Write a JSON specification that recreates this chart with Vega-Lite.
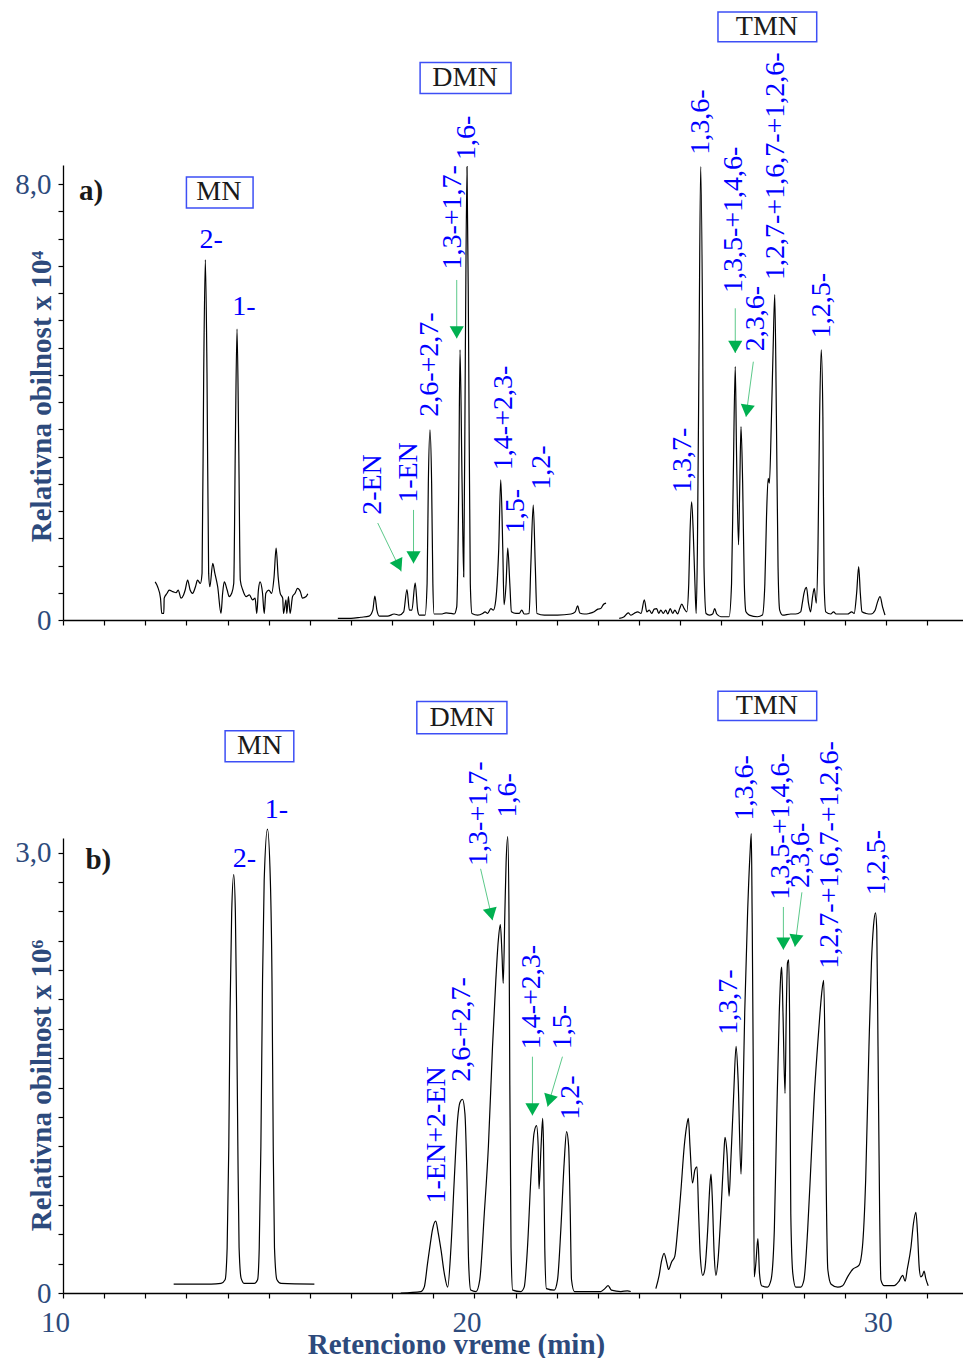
{
  "$schema": "https://vega.github.io/schema/vega-lite/v6.json",
  "background": "white",
  "padding": {"left": 14, "top": 11, "right": 0, "bottom": 5},
  "bounds": "flush",
  "spacing": 218,
  "config": {
    "view": {"stroke": null},
    "axis": {"grid": false, "domainColor": "#000000", "domainWidth": 1.3, "tickColor": "#000000", "tickWidth": 1.2, "tickSize": 5, "labelFont": "Liberation Serif", "labelFontSize": 29, "labelColor": "#2D4A7C", "titleFont": "Liberation Serif", "titleFontSize": 29, "titleFontWeight": "bold", "titleColor": "#2D4A7C", "labelOverlap": false, "labelFlush": false}
  },
  "datasets": {
    "trace": [
      {"p":"a","s":1,"t":12.24,"v":0.70},{"p":"a","s":1,"t":12.30,"v":0.61},{"p":"a","s":1,"t":12.37,"v":0.40},{"p":"a","s":1,"t":12.40,"v":0.12},{"p":"a","s":1,"t":12.45,"v":0.12},{"p":"a","s":1,"t":12.46,"v":0.40},{"p":"a","s":1,"t":12.53,"v":0.49},{"p":"a","s":1,"t":12.58,"v":0.55},{"p":"a","s":1,"t":12.67,"v":0.52},{"p":"a","s":1,"t":12.75,"v":0.50},{"p":"a","s":1,"t":12.80,"v":0.55},{"p":"a","s":1,"t":12.87,"v":0.40},{"p":"a","s":1,"t":12.93,"v":0.46},{"p":"a","s":1,"t":12.97,"v":0.55},{"p":"a","s":1,"t":13.03,"v":0.73},{"p":"a","s":1,"t":13.09,"v":0.55},{"p":"a","s":1,"t":13.15,"v":0.49},{"p":"a","s":1,"t":13.22,"v":0.61},{"p":"a","s":1,"t":13.27,"v":0.73},{"p":"a","s":1,"t":13.34,"v":0.67},{"p":"a","s":1,"t":13.38,"v":0.86},{"p":"a","s":1,"t":13.42,"v":4.53},{"p":"a","s":1,"t":13.46,"v":6.61},{"p":"a","s":1,"t":13.50,"v":4.53},{"p":"a","s":1,"t":13.54,"v":0.86},{"p":"a","s":1,"t":13.57,"v":0.61},{"p":"a","s":1,"t":13.64,"v":1.04},{"p":"a","s":1,"t":13.69,"v":0.86},{"p":"a","s":1,"t":13.76,"v":0.61},{"p":"a","s":1,"t":13.84,"v":0.12},{"p":"a","s":1,"t":13.88,"v":0.49},{"p":"a","s":1,"t":13.92,"v":0.70},{"p":"a","s":1,"t":13.99,"v":0.55},{"p":"a","s":1,"t":14.04,"v":0.43},{"p":"a","s":1,"t":14.10,"v":0.49},{"p":"a","s":1,"t":14.15,"v":0.67},{"p":"a","s":1,"t":14.19,"v":3.30},{"p":"a","s":1,"t":14.23,"v":5.34},{"p":"a","s":1,"t":14.27,"v":3.30},{"p":"a","s":1,"t":14.31,"v":0.73},{"p":"a","s":1,"t":14.37,"v":0.55},{"p":"a","s":1,"t":14.45,"v":0.43},{"p":"a","s":1,"t":14.53,"v":0.46},{"p":"a","s":1,"t":14.61,"v":0.37},{"p":"a","s":1,"t":14.67,"v":0.40},{"p":"a","s":1,"t":14.71,"v":0.12},{"p":"a","s":1,"t":14.75,"v":0.55},{"p":"a","s":1,"t":14.79,"v":0.70},{"p":"a","s":1,"t":14.85,"v":0.49},{"p":"a","s":1,"t":14.89,"v":0.12},{"p":"a","s":1,"t":14.93,"v":0.49},{"p":"a","s":1,"t":15.00,"v":0.55},{"p":"a","s":1,"t":15.07,"v":0.49},{"p":"a","s":1,"t":15.13,"v":0.79},{"p":"a","s":1,"t":15.18,"v":1.32},{"p":"a","s":1,"t":15.23,"v":0.79},{"p":"a","s":1,"t":15.28,"v":0.49},{"p":"a","s":1,"t":15.34,"v":0.40},{"p":"a","s":1,"t":15.36,"v":0.12},{"p":"a","s":1,"t":15.42,"v":0.37},{"p":"a","s":1,"t":15.44,"v":0.12},{"p":"a","s":1,"t":15.48,"v":0.43},{"p":"a","s":1,"t":15.52,"v":0.12},{"p":"a","s":1,"t":15.58,"v":0.43},{"p":"a","s":1,"t":15.64,"v":0.49},{"p":"a","s":1,"t":15.70,"v":0.58},{"p":"a","s":1,"t":15.77,"v":0.52},{"p":"a","s":1,"t":15.82,"v":0.40},{"p":"a","s":1,"t":15.91,"v":0.43},{"p":"a","s":1,"t":15.95,"v":0.48},
      {"p":"a","s":2,"t":16.68,"v":0.03},{"p":"a","s":2,"t":17.00,"v":0.03},{"p":"a","s":2,"t":17.24,"v":0.05},{"p":"a","s":2,"t":17.44,"v":0.07},{"p":"a","s":2,"t":17.53,"v":0.18},{"p":"a","s":2,"t":17.58,"v":0.44},{"p":"a","s":2,"t":17.63,"v":0.18},{"p":"a","s":2,"t":17.69,"v":0.07},{"p":"a","s":2,"t":17.89,"v":0.07},{"p":"a","s":2,"t":18.05,"v":0.11},{"p":"a","s":2,"t":18.17,"v":0.09},{"p":"a","s":2,"t":18.28,"v":0.15},{"p":"a","s":2,"t":18.36,"v":0.56},{"p":"a","s":2,"t":18.42,"v":0.18},{"p":"a","s":2,"t":18.48,"v":0.18},{"p":"a","s":2,"t":18.56,"v":0.68},{"p":"a","s":2,"t":18.62,"v":0.18},{"p":"a","s":2,"t":18.66,"v":0.09},{"p":"a","s":2,"t":18.80,"v":0.09},{"p":"a","s":2,"t":18.85,"v":0.67},{"p":"a","s":2,"t":18.88,"v":2.51},{"p":"a","s":2,"t":18.92,"v":3.49},{"p":"a","s":2,"t":18.96,"v":2.51},{"p":"a","s":2,"t":18.99,"v":0.67},{"p":"a","s":2,"t":19.02,"v":0.11},{"p":"a","s":2,"t":19.19,"v":0.11},{"p":"a","s":2,"t":19.31,"v":0.13},{"p":"a","s":2,"t":19.43,"v":0.12},{"p":"a","s":2,"t":19.51,"v":0.11},{"p":"a","s":2,"t":19.57,"v":0.24},{"p":"a","s":2,"t":19.62,"v":2.51},{"p":"a","s":2,"t":19.65,"v":4.96},{"p":"a","s":2,"t":19.70,"v":2.51},{"p":"a","s":2,"t":19.74,"v":0.79},{"p":"a","s":2,"t":19.78,"v":4.96},{"p":"a","s":2,"t":19.82,"v":8.32},{"p":"a","s":2,"t":19.86,"v":4.96},{"p":"a","s":2,"t":19.90,"v":0.67},{"p":"a","s":2,"t":19.94,"v":0.12},{"p":"a","s":2,"t":20.08,"v":0.09},{"p":"a","s":2,"t":20.20,"v":0.12},{"p":"a","s":2,"t":20.26,"v":0.15},{"p":"a","s":2,"t":20.32,"v":0.12},{"p":"a","s":2,"t":20.40,"v":0.21},{"p":"a","s":2,"t":20.46,"v":0.18},{"p":"a","s":2,"t":20.52,"v":0.37},{"p":"a","s":2,"t":20.59,"v":1.29},{"p":"a","s":2,"t":20.64,"v":2.57},{"p":"a","s":2,"t":20.69,"v":1.29},{"p":"a","s":2,"t":20.72,"v":0.28},{"p":"a","s":2,"t":20.77,"v":0.67},{"p":"a","s":2,"t":20.81,"v":1.32},{"p":"a","s":2,"t":20.86,"v":0.67},{"p":"a","s":2,"t":20.90,"v":0.15},{"p":"a","s":2,"t":21.01,"v":0.12},{"p":"a","s":2,"t":21.09,"v":0.12},{"p":"a","s":2,"t":21.15,"v":0.18},{"p":"a","s":2,"t":21.21,"v":0.11},{"p":"a","s":2,"t":21.33,"v":0.12},{"p":"a","s":2,"t":21.37,"v":0.98},{"p":"a","s":2,"t":21.43,"v":2.11},{"p":"a","s":2,"t":21.48,"v":0.98},{"p":"a","s":2,"t":21.52,"v":0.12},{"p":"a","s":2,"t":21.70,"v":0.09},{"p":"a","s":2,"t":22.02,"v":0.09},{"p":"a","s":2,"t":22.35,"v":0.11},{"p":"a","s":2,"t":22.45,"v":0.15},{"p":"a","s":2,"t":22.51,"v":0.26},{"p":"a","s":2,"t":22.56,"v":0.13},{"p":"a","s":2,"t":22.67,"v":0.11},{"p":"a","s":2,"t":22.79,"v":0.12},{"p":"a","s":2,"t":22.91,"v":0.15},{"p":"a","s":2,"t":23.00,"v":0.20},{"p":"a","s":2,"t":23.07,"v":0.21},{"p":"a","s":2,"t":23.14,"v":0.29},{"p":"a","s":2,"t":23.20,"v":0.31},
      {"p":"a","s":3,"t":23.52,"v":0.03},{"p":"a","s":3,"t":23.64,"v":0.06},{"p":"a","s":3,"t":23.74,"v":0.13},{"p":"a","s":3,"t":23.80,"v":0.09},{"p":"a","s":3,"t":23.88,"v":0.12},{"p":"a","s":3,"t":23.97,"v":0.15},{"p":"a","s":3,"t":24.05,"v":0.12},{"p":"a","s":3,"t":24.13,"v":0.37},{"p":"a","s":3,"t":24.19,"v":0.15},{"p":"a","s":3,"t":24.25,"v":0.18},{"p":"a","s":3,"t":24.31,"v":0.12},{"p":"a","s":3,"t":24.37,"v":0.20},{"p":"a","s":3,"t":24.43,"v":0.21},{"p":"a","s":3,"t":24.48,"v":0.12},{"p":"a","s":3,"t":24.53,"v":0.18},{"p":"a","s":3,"t":24.59,"v":0.12},{"p":"a","s":3,"t":24.65,"v":0.18},{"p":"a","s":3,"t":24.70,"v":0.11},{"p":"a","s":3,"t":24.76,"v":0.21},{"p":"a","s":3,"t":24.82,"v":0.12},{"p":"a","s":3,"t":24.87,"v":0.18},{"p":"a","s":3,"t":24.94,"v":0.11},{"p":"a","s":3,"t":24.99,"v":0.21},{"p":"a","s":3,"t":25.04,"v":0.29},{"p":"a","s":3,"t":25.10,"v":0.21},{"p":"a","s":3,"t":25.16,"v":0.15},{"p":"a","s":3,"t":25.21,"v":0.67},{"p":"a","s":3,"t":25.24,"v":1.59},{"p":"a","s":3,"t":25.28,"v":2.17},{"p":"a","s":3,"t":25.32,"v":1.59},{"p":"a","s":3,"t":25.36,"v":0.67},{"p":"a","s":3,"t":25.39,"v":0.12},{"p":"a","s":3,"t":25.42,"v":1.29},{"p":"a","s":3,"t":25.46,"v":4.96},{"p":"a","s":3,"t":25.50,"v":8.32},{"p":"a","s":3,"t":25.55,"v":4.96},{"p":"a","s":3,"t":25.58,"v":0.98},{"p":"a","s":3,"t":25.63,"v":0.12},{"p":"a","s":3,"t":25.71,"v":0.09},{"p":"a","s":3,"t":25.79,"v":0.11},{"p":"a","s":3,"t":25.84,"v":0.21},{"p":"a","s":3,"t":25.89,"v":0.11},{"p":"a","s":3,"t":25.99,"v":0.06},{"p":"a","s":3,"t":26.19,"v":0.06},{"p":"a","s":3,"t":26.25,"v":0.67},{"p":"a","s":3,"t":26.29,"v":2.51},{"p":"a","s":3,"t":26.34,"v":4.65},{"p":"a","s":3,"t":26.37,"v":3.12},{"p":"a","s":3,"t":26.42,"v":1.38},{"p":"a","s":3,"t":26.45,"v":2.51},{"p":"a","s":3,"t":26.48,"v":3.55},{"p":"a","s":3,"t":26.52,"v":2.51},{"p":"a","s":3,"t":26.56,"v":0.67},{"p":"a","s":3,"t":26.60,"v":0.15},{"p":"a","s":3,"t":26.68,"v":0.09},{"p":"a","s":3,"t":26.88,"v":0.06},{"p":"a","s":3,"t":27.00,"v":0.09},{"p":"a","s":3,"t":27.06,"v":0.67},{"p":"a","s":3,"t":27.10,"v":1.90},{"p":"a","s":3,"t":27.14,"v":2.60},{"p":"a","s":3,"t":27.17,"v":2.51},{"p":"a","s":3,"t":27.22,"v":3.73},{"p":"a","s":3,"t":27.26,"v":4.96},{"p":"a","s":3,"t":27.30,"v":5.97},{"p":"a","s":3,"t":27.34,"v":3.73},{"p":"a","s":3,"t":27.38,"v":0.98},{"p":"a","s":3,"t":27.42,"v":0.18},{"p":"a","s":3,"t":27.49,"v":0.09},{"p":"a","s":3,"t":27.69,"v":0.11},{"p":"a","s":3,"t":27.81,"v":0.11},{"p":"a","s":3,"t":27.93,"v":0.15},{"p":"a","s":3,"t":27.97,"v":0.31},{"p":"a","s":3,"t":28.01,"v":0.49},{"p":"a","s":3,"t":28.07,"v":0.60},{"p":"a","s":3,"t":28.12,"v":0.31},{"p":"a","s":3,"t":28.17,"v":0.15},{"p":"a","s":3,"t":28.22,"v":0.43},{"p":"a","s":3,"t":28.26,"v":0.58},{"p":"a","s":3,"t":28.31,"v":0.31},{"p":"a","s":3,"t":28.35,"v":1.29},{"p":"a","s":3,"t":28.39,"v":3.73},{"p":"a","s":3,"t":28.43,"v":4.96},{"p":"a","s":3,"t":28.47,"v":3.73},{"p":"a","s":3,"t":28.50,"v":0.67},{"p":"a","s":3,"t":28.54,"v":0.15},{"p":"a","s":3,"t":28.66,"v":0.11},{"p":"a","s":3,"t":28.73,"v":0.15},{"p":"a","s":3,"t":28.79,"v":0.11},{"p":"a","s":3,"t":28.91,"v":0.11},{"p":"a","s":3,"t":29.07,"v":0.11},{"p":"a","s":3,"t":29.17,"v":0.15},{"p":"a","s":3,"t":29.23,"v":0.12},{"p":"a","s":3,"t":29.29,"v":0.49},{"p":"a","s":3,"t":29.34,"v":0.98},{"p":"a","s":3,"t":29.38,"v":0.49},{"p":"a","s":3,"t":29.42,"v":0.15},{"p":"a","s":3,"t":29.52,"v":0.12},{"p":"a","s":3,"t":29.64,"v":0.11},{"p":"a","s":3,"t":29.74,"v":0.18},{"p":"a","s":3,"t":29.79,"v":0.31},{"p":"a","s":3,"t":29.86,"v":0.43},{"p":"a","s":3,"t":29.92,"v":0.24},{"p":"a","s":3,"t":29.98,"v":0.09},
      {"p":"b","s":1,"t":12.69,"v":0.06},{"p":"b","s":1,"t":13.19,"v":0.06},{"p":"b","s":1,"t":13.60,"v":0.06},{"p":"b","s":1,"t":13.84,"v":0.065},{"p":"b","s":1,"t":13.94,"v":0.09},{"p":"b","s":1,"t":13.99,"v":0.31},{"p":"b","s":1,"t":14.03,"v":1.0},{"p":"b","s":1,"t":14.06,"v":1.91},{"p":"b","s":1,"t":14.10,"v":2.59},{"p":"b","s":1,"t":14.15,"v":2.85},{"p":"b","s":1,"t":14.19,"v":2.59},{"p":"b","s":1,"t":14.22,"v":1.91},{"p":"b","s":1,"t":14.25,"v":1.0},{"p":"b","s":1,"t":14.28,"v":0.31},{"p":"b","s":1,"t":14.33,"v":0.10},{"p":"b","s":1,"t":14.41,"v":0.065},{"p":"b","s":1,"t":14.65,"v":0.065},{"p":"b","s":1,"t":14.73,"v":0.09},{"p":"b","s":1,"t":14.77,"v":0.31},{"p":"b","s":1,"t":14.81,"v":1.0},{"p":"b","s":1,"t":14.85,"v":2.13},{"p":"b","s":1,"t":14.89,"v":2.81},{"p":"b","s":1,"t":14.97,"v":3.16},{"p":"b","s":1,"t":15.04,"v":2.81},{"p":"b","s":1,"t":15.08,"v":2.13},{"p":"b","s":1,"t":15.11,"v":1.0},{"p":"b","s":1,"t":15.14,"v":0.31},{"p":"b","s":1,"t":15.20,"v":0.09},{"p":"b","s":1,"t":15.30,"v":0.065},{"p":"b","s":1,"t":16.11,"v":0.06},
      {"p":"b","s":2,"t":18.21,"v":0.0},{"p":"b","s":2,"t":18.70,"v":0.01},{"p":"b","s":2,"t":18.78,"v":0.04},{"p":"b","s":2,"t":18.86,"v":0.20},{"p":"b","s":2,"t":18.93,"v":0.34},{"p":"b","s":2,"t":18.98,"v":0.43},{"p":"b","s":2,"t":19.06,"v":0.49},{"p":"b","s":2,"t":19.12,"v":0.41},{"p":"b","s":2,"t":19.19,"v":0.29},{"p":"b","s":2,"t":19.27,"v":0.13},{"p":"b","s":2,"t":19.35,"v":0.04},{"p":"b","s":2,"t":19.43,"v":0.31},{"p":"b","s":2,"t":19.51,"v":0.77},{"p":"b","s":2,"t":19.59,"v":1.18},{"p":"b","s":2,"t":19.65,"v":1.30},{"p":"b","s":2,"t":19.71,"v":1.32},{"p":"b","s":2,"t":19.77,"v":1.22},{"p":"b","s":2,"t":19.82,"v":0.77},{"p":"b","s":2,"t":19.86,"v":0.20},{"p":"b","s":2,"t":19.91,"v":0.02},{"p":"b","s":2,"t":20.04,"v":0.01},{"p":"b","s":2,"t":20.13,"v":0.09},{"p":"b","s":2,"t":20.24,"v":0.54},{"p":"b","s":2,"t":20.34,"v":1.00},{"p":"b","s":2,"t":20.44,"v":1.68},{"p":"b","s":2,"t":20.52,"v":2.13},{"p":"b","s":2,"t":20.58,"v":2.40},{"p":"b","s":2,"t":20.63,"v":2.51},{"p":"b","s":2,"t":20.67,"v":2.31},{"p":"b","s":2,"t":20.70,"v":2.11},{"p":"b","s":2,"t":20.74,"v":2.59},{"p":"b","s":2,"t":20.77,"v":2.93},{"p":"b","s":2,"t":20.81,"v":3.11},{"p":"b","s":2,"t":20.84,"v":2.59},{"p":"b","s":2,"t":20.86,"v":1.45},{"p":"b","s":2,"t":20.89,"v":0.31},{"p":"b","s":2,"t":20.93,"v":0.02},{"p":"b","s":2,"t":21.13,"v":0.01},{"p":"b","s":2,"t":21.21,"v":0.04},{"p":"b","s":2,"t":21.29,"v":0.31},{"p":"b","s":2,"t":21.37,"v":0.77},{"p":"b","s":2,"t":21.45,"v":1.09},{"p":"b","s":2,"t":21.51,"v":1.14},{"p":"b","s":2,"t":21.55,"v":1.00},{"p":"b","s":2,"t":21.57,"v":0.71},{"p":"b","s":2,"t":21.62,"v":1.00},{"p":"b","s":2,"t":21.66,"v":1.19},{"p":"b","s":2,"t":21.68,"v":1.00},{"p":"b","s":2,"t":21.71,"v":0.31},{"p":"b","s":2,"t":21.75,"v":0.03},{"p":"b","s":2,"t":21.94,"v":0.02},{"p":"b","s":2,"t":22.02,"v":0.09},{"p":"b","s":2,"t":22.10,"v":0.43},{"p":"b","s":2,"t":22.18,"v":0.88},{"p":"b","s":2,"t":22.24,"v":1.10},{"p":"b","s":2,"t":22.29,"v":1.00},{"p":"b","s":2,"t":22.33,"v":0.54},{"p":"b","s":2,"t":22.36,"v":0.09},{"p":"b","s":2,"t":22.43,"v":0.01},{"p":"b","s":2,"t":23.07,"v":0.01},{"p":"b","s":2,"t":23.17,"v":0.03},{"p":"b","s":2,"t":23.25,"v":0.05},{"p":"b","s":2,"t":23.33,"v":0.02},{"p":"b","s":2,"t":23.56,"v":0.01},{"p":"b","s":2,"t":23.72,"v":0.015},{"p":"b","s":2,"t":23.80,"v":0.01},
      {"p":"b","s":3,"t":24.41,"v":0.03},{"p":"b","s":3,"t":24.49,"v":0.12},{"p":"b","s":3,"t":24.55,"v":0.22},{"p":"b","s":3,"t":24.61,"v":0.27},{"p":"b","s":3,"t":24.68,"v":0.20},{"p":"b","s":3,"t":24.72,"v":0.16},{"p":"b","s":3,"t":24.79,"v":0.21},{"p":"b","s":3,"t":24.87,"v":0.25},{"p":"b","s":3,"t":24.94,"v":0.43},{"p":"b","s":3,"t":25.02,"v":0.70},{"p":"b","s":3,"t":25.10,"v":1.00},{"p":"b","s":3,"t":25.16,"v":1.14},{"p":"b","s":3,"t":25.20,"v":1.19},{"p":"b","s":3,"t":25.24,"v":1.00},{"p":"b","s":3,"t":25.30,"v":0.75},{"p":"b","s":3,"t":25.36,"v":0.84},{"p":"b","s":3,"t":25.41,"v":0.86},{"p":"b","s":3,"t":25.45,"v":0.54},{"p":"b","s":3,"t":25.49,"v":0.25},{"p":"b","s":3,"t":25.55,"v":0.12},{"p":"b","s":3,"t":25.60,"v":0.16},{"p":"b","s":3,"t":25.67,"v":0.43},{"p":"b","s":3,"t":25.72,"v":0.72},{"p":"b","s":3,"t":25.75,"v":0.81},{"p":"b","s":3,"t":25.78,"v":0.66},{"p":"b","s":3,"t":25.83,"v":0.25},{"p":"b","s":3,"t":25.87,"v":0.12},{"p":"b","s":3,"t":25.92,"v":0.22},{"p":"b","s":3,"t":25.99,"v":0.54},{"p":"b","s":3,"t":26.06,"v":0.93},{"p":"b","s":3,"t":26.09,"v":1.06},{"p":"b","s":3,"t":26.14,"v":0.95},{"p":"b","s":3,"t":26.19,"v":0.66},{"p":"b","s":3,"t":26.23,"v":0.88},{"p":"b","s":3,"t":26.30,"v":1.34},{"p":"b","s":3,"t":26.36,"v":1.68},{"p":"b","s":3,"t":26.41,"v":1.45},{"p":"b","s":3,"t":26.48,"v":0.81},{"p":"b","s":3,"t":26.52,"v":1.22},{"p":"b","s":3,"t":26.57,"v":1.91},{"p":"b","s":3,"t":26.64,"v":2.59},{"p":"b","s":3,"t":26.70,"v":3.00},{"p":"b","s":3,"t":26.73,"v":3.13},{"p":"b","s":3,"t":26.75,"v":2.59},{"p":"b","s":3,"t":26.78,"v":1.45},{"p":"b","s":3,"t":26.80,"v":0.11},{"p":"b","s":3,"t":26.84,"v":0.20},{"p":"b","s":3,"t":26.89,"v":0.37},{"p":"b","s":3,"t":26.93,"v":0.13},{"p":"b","s":3,"t":26.98,"v":0.05},{"p":"b","s":3,"t":27.12,"v":0.04},{"p":"b","s":3,"t":27.21,"v":0.09},{"p":"b","s":3,"t":27.29,"v":0.43},{"p":"b","s":3,"t":27.35,"v":1.22},{"p":"b","s":3,"t":27.41,"v":1.91},{"p":"b","s":3,"t":27.45,"v":2.18},{"p":"b","s":3,"t":27.47,"v":2.22},{"p":"b","s":3,"t":27.50,"v":1.91},{"p":"b","s":3,"t":27.55,"v":1.36},{"p":"b","s":3,"t":27.58,"v":1.91},{"p":"b","s":3,"t":27.61,"v":2.25},{"p":"b","s":3,"t":27.64,"v":2.27},{"p":"b","s":3,"t":27.66,"v":1.91},{"p":"b","s":3,"t":27.69,"v":0.54},{"p":"b","s":3,"t":27.74,"v":0.13},{"p":"b","s":3,"t":27.81,"v":0.04},{"p":"b","s":3,"t":27.93,"v":0.04},{"p":"b","s":3,"t":28.01,"v":0.09},{"p":"b","s":3,"t":28.10,"v":0.43},{"p":"b","s":3,"t":28.18,"v":0.88},{"p":"b","s":3,"t":28.26,"v":1.34},{"p":"b","s":3,"t":28.34,"v":1.68},{"p":"b","s":3,"t":28.40,"v":1.91},{"p":"b","s":3,"t":28.44,"v":2.04},{"p":"b","s":3,"t":28.49,"v":2.13},{"p":"b","s":3,"t":28.52,"v":1.68},{"p":"b","s":3,"t":28.55,"v":0.77},{"p":"b","s":3,"t":28.59,"v":0.16},{"p":"b","s":3,"t":28.67,"v":0.06},{"p":"b","s":3,"t":28.83,"v":0.04},{"p":"b","s":3,"t":28.95,"v":0.05},{"p":"b","s":3,"t":29.07,"v":0.11},{"p":"b","s":3,"t":29.19,"v":0.16},{"p":"b","s":3,"t":29.35,"v":0.19},{"p":"b","s":3,"t":29.43,"v":0.31},{"p":"b","s":3,"t":29.51,"v":0.77},{"p":"b","s":3,"t":29.59,"v":1.68},{"p":"b","s":3,"t":29.65,"v":2.25},{"p":"b","s":3,"t":29.70,"v":2.50},{"p":"b","s":3,"t":29.75,"v":2.59},{"p":"b","s":3,"t":29.78,"v":2.47},{"p":"b","s":3,"t":29.81,"v":1.68},{"p":"b","s":3,"t":29.85,"v":0.54},{"p":"b","s":3,"t":29.88,"v":0.09},{"p":"b","s":3,"t":29.96,"v":0.05},{"p":"b","s":3,"t":30.20,"v":0.05},{"p":"b","s":3,"t":30.32,"v":0.08},{"p":"b","s":3,"t":30.41,"v":0.12},{"p":"b","s":3,"t":30.47,"v":0.08},{"p":"b","s":3,"t":30.52,"v":0.16},{"p":"b","s":3,"t":30.61,"v":0.31},{"p":"b","s":3,"t":30.67,"v":0.47},{"p":"b","s":3,"t":30.73,"v":0.55},{"p":"b","s":3,"t":30.77,"v":0.41},{"p":"b","s":3,"t":30.81,"v":0.18},{"p":"b","s":3,"t":30.85,"v":0.11},{"p":"b","s":3,"t":30.89,"v":0.12},{"p":"b","s":3,"t":30.93,"v":0.15},{"p":"b","s":3,"t":30.97,"v":0.10},{"p":"b","s":3,"t":31.03,"v":0.05}
    ],
    "labels": [
      {"p":"a","name":"2-EN","t":17.53,"v":1.93},
      {"p":"a","name":"1-EN","t":18.41,"v":2.15},
      {"p":"a","name":"2,6-+2,7-","t":18.93,"v":3.73},
      {"p":"a","name":"1,3-+1,7-","t":19.49,"v":6.43},
      {"p":"a","name":"1,6-","t":19.82,"v":8.44},
      {"p":"a","name":"1,4-+2,3-","t":20.72,"v":2.75},
      {"p":"a","name":"1,5-","t":21.01,"v":1.59},
      {"p":"a","name":"1,2-","t":21.64,"v":2.39},
      {"p":"a","name":"1,3,7-","t":25.07,"v":2.33},
      {"p":"a","name":"1,3,6-","t":25.50,"v":8.54},
      {"p":"a","name":"1,3,5-+1,4,6-","t":26.31,"v":6.00},
      {"p":"a","name":"2,3,6-","t":26.84,"v":4.93},
      {"p":"a","name":"1,2,7-+1,6,7-+1,2,6-","t":27.33,"v":6.24},
      {"p":"a","name":"1,2,5-","t":28.44,"v":5.17},
      {"p":"b","name":"1-EN+2-EN","t":19.09,"v":0.61},
      {"p":"b","name":"2,6-+2,7-","t":19.70,"v":1.44},
      {"p":"b","name":"1,3-+1,7-","t":20.11,"v":2.91},
      {"p":"b","name":"1,6-","t":20.81,"v":3.24},
      {"p":"b","name":"1,4-+2,3-","t":21.40,"v":1.66},
      {"p":"b","name":"1,5-","t":22.15,"v":1.66},
      {"p":"b","name":"1,2-","t":22.35,"v":1.18},
      {"p":"b","name":"1,3,7-","t":26.18,"v":1.76},
      {"p":"b","name":"1,3,6-","t":26.57,"v":3.22},
      {"p":"b","name":"1,3,5-+1,4,6-","t":27.45,"v":2.68},
      {"p":"b","name":"2,3,6-","t":27.93,"v":2.76},
      {"p":"b","name":"1,2,7-+1,6,7-+1,2,6-","t":28.64,"v":2.21},
      {"p":"b","name":"1,2,5-","t":29.78,"v":2.71}
    ],
    "labelsH": [
      {"p":"a","name":"2-","t":13.60,"v":6.98},
      {"p":"a","name":"1-","t":14.40,"v":5.75},
      {"p":"b","name":"2-","t":14.41,"v":2.96},
      {"p":"b","name":"1-","t":15.19,"v":3.29}
    ],
    "arrows": [
      {"p":"a","id":"2-EN","t":17.65,"v":1.78,"t2":18.22,"v2":0.89},
      {"p":"a","id":"1-EN","t":18.52,"v":2.02,"t2":18.52,"v2":1.04},
      {"p":"a","id":"1,3-+1,7-","t":19.57,"v":6.24,"t2":19.57,"v2":5.17},
      {"p":"a","id":"1,3,5-+1,4,6-","t":26.34,"v":5.72,"t2":26.34,"v2":4.90},
      {"p":"a","id":"2,3,6-","t":26.78,"v":4.74,"t2":26.60,"v2":3.73},
      {"p":"b","id":"1,3-+1,7-","t":20.15,"v":2.89,"t2":20.44,"v2":2.54},
      {"p":"b","id":"1,4-+2,3-","t":21.41,"v":1.61,"t2":21.41,"v2":1.21},
      {"p":"b","id":"1,5-","t":22.14,"v":1.61,"t2":21.78,"v2":1.27},
      {"p":"b","id":"1,3,5-+1,4,6-","t":27.51,"v":2.63,"t2":27.51,"v2":2.34},
      {"p":"b","id":"2,3,6-","t":27.96,"v":2.73,"t2":27.79,"v2":2.36}
    ],
    "heads": [
      {"p":"a","id":"2-EN","dir":"right","t":18.22,"v":0.89},
      {"p":"a","id":"1-EN","dir":"down","t":18.52,"v":1.04},
      {"p":"a","id":"1,3-+1,7-","dir":"down","t":19.57,"v":5.17},
      {"p":"a","id":"1,3,5-+1,4,6-","dir":"down","t":26.34,"v":4.90},
      {"p":"a","id":"2,3,6-","dir":"left","t":26.60,"v":3.73},
      {"p":"b","id":"1,3-+1,7-","dir":"right","t":20.44,"v":2.54},
      {"p":"b","id":"1,4-+2,3-","dir":"down","t":21.41,"v":1.21},
      {"p":"b","id":"1,5-","dir":"left","t":21.78,"v":1.27},
      {"p":"b","id":"1,3,5-+1,4,6-","dir":"down","t":27.51,"v":2.34},
      {"p":"b","id":"2,3,6-","dir":"left","t":27.79,"v":2.36}
    ],
    "boxes": [
      {"p":"a","name":"MN","t":13.0,"t2":14.62,"v":7.56,"v2":8.13},
      {"p":"a","name":"DMN","t":18.68,"t2":20.89,"v":9.66,"v2":10.23},
      {"p":"a","name":"TMN","t":25.92,"t2":28.32,"v":10.61,"v2":11.16},
      {"p":"b","name":"MN","t":13.94,"t2":15.61,"v":3.62,"v2":3.83},
      {"p":"b","name":"DMN","t":18.60,"t2":20.79,"v":3.81,"v2":4.03},
      {"p":"b","name":"TMN","t":25.92,"t2":28.32,"v":3.90,"v2":4.10}
    ],
    "boxText": [
      {"p":"a","name":"MN","t":13.79,"v":7.86},
      {"p":"a","name":"DMN","t":19.77,"v":9.95},
      {"p":"a","name":"TMN","t":27.11,"v":10.89},
      {"p":"b","name":"MN","t":14.78,"v":3.73},
      {"p":"b","name":"DMN","t":19.70,"v":3.92},
      {"p":"b","name":"TMN","t":27.11,"v":4.00}
    ],
    "tags": [
      {"p":"a","name":"a)","t":10.68,"v":7.88},
      {"p":"b","name":"b)","t":10.86,"v":2.95}
    ]
  },
  "vconcat": [
    {
      "width": 901,
      "height": 455,
      "encoding": {
        "x": {"field": "t", "type": "quantitative", "scale": {"domain": [10, 31.9], "nice": false, "zero": false},
              "axis": {"values": [10,11,12,13,14,15,16,17,18,19,20,21,22,23,24,25,26,27,28,29,30,31], "labels": false, "title": null}},
        "y": {"field": "v", "type": "quantitative", "scale": {"domain": [0, 8.35], "nice": false},
              "axis": {"values": [0,0.5,1,1.5,2,2.5,3,3.5,4,4.5,5,5.5,6,6.5,7,7.5,8], "labelExpr": "datum.value === 0 ? '0' : (datum.value === 8 ? '8,0' : '')", "labelPadding": 7, "title": "Relativna obilnost x 10⁴", "titleAngle": 270, "titleX": -22, "titleY": 231, "titleAlign": "center", "titleBaseline": "middle"}}
      },
      "layer": [
        {
          "data": {"name": "trace"},
          "transform": [{"filter": "datum.p === 'a'"}],
          "mark": {"type": "line", "color": "#000000", "strokeWidth": 1.2, "interpolate": "monotone"},
          "encoding": {"detail": {"field": "s"}}
        },
        {
          "data": {"name": "labels"},
          "transform": [{"filter": "datum.p === 'a'"}],
          "mark": {"type": "text", "angle": 270, "align": "left", "baseline": "middle", "font": "Liberation Serif", "fontSize": 28, "color": "#0000FF"},
          "encoding": {"text": {"field": "name"}}
        },
        {
          "data": {"name": "labelsH"},
          "transform": [{"filter": "datum.p === 'a'"}],
          "mark": {"type": "text", "align": "center", "baseline": "middle", "font": "Liberation Serif", "fontSize": 28, "color": "#0000FF"},
          "encoding": {"text": {"field": "name"}}
        },
        {
          "data": {"name": "arrows"},
          "transform": [{"filter": "datum.p === 'a'"}],
          "mark": {"type": "rule", "color": "#5CC98A", "strokeWidth": 1},
          "encoding": {"x2": {"field": "t2"}, "y2": {"field": "v2"}}
        },
        {
          "data": {"name": "heads"},
          "transform": [{"filter": "datum.p === 'a' && datum.dir === 'down'"}],
          "mark": {"type": "point", "shape": "triangle-down", "filled": true, "color": "#00B050", "opacity": 1, "size": 200, "yOffset": -6}
        },
        {
          "data": {"name": "heads"},
          "transform": [{"filter": "datum.p === 'a' && datum.id === '2-EN'"}],
          "mark": {"type": "point", "shape": "triangle-down", "filled": true, "color": "#00B050", "opacity": 1, "size": 200, "yOffset": -6, "xOffset": -2.5, "angle": 334}
        },
        {
          "data": {"name": "heads"},
          "transform": [{"filter": "datum.p === 'a' && datum.id === '2,3,6-'"}],
          "mark": {"type": "point", "shape": "triangle-down", "filled": true, "color": "#00B050", "opacity": 1, "size": 200, "yOffset": -6, "xOffset": 1, "angle": 8}
        },
        {
          "data": {"name": "boxes"},
          "transform": [{"filter": "datum.p === 'a'"}],
          "mark": {"type": "rect", "filled": false, "color": "#3D4FF5", "strokeWidth": 1.5},
          "encoding": {"x2": {"field": "t2"}, "y2": {"field": "v2"}}
        },
        {
          "data": {"name": "boxText"},
          "transform": [{"filter": "datum.p === 'a'"}],
          "mark": {"type": "text", "align": "center", "baseline": "middle", "font": "Liberation Serif", "fontSize": 28, "color": "#1A1A1A"},
          "encoding": {"text": {"field": "name"}}
        },
        {
          "data": {"name": "tags"},
          "transform": [{"filter": "datum.p === 'a'"}],
          "mark": {"type": "text", "align": "center", "baseline": "middle", "font": "Liberation Serif", "fontSize": 29, "fontWeight": "bold", "color": "#1A1A1A"},
          "encoding": {"text": {"field": "name"}}
        }
      ]
    },
    {
      "width": 901,
      "height": 455,
      "encoding": {
        "x": {"field": "t", "type": "quantitative", "scale": {"domain": [10, 31.9], "nice": false, "zero": false},
              "axis": {"values": [10,11,12,13,14,15,16,17,18,19,20,21,22,23,24,25,26,27,28,29,30,31], "labelExpr": "datum.value % 10 === 0 ? datum.label : ''", "labelBaseline": "middle", "labelPadding": 24, "labelOffset": -8, "title": "Retenciono vreme (min)", "titleX": 393, "titleY": 51, "titleAlign": "center", "titleBaseline": "middle"}},
        "y": {"field": "v", "type": "quantitative", "scale": {"domain": [0, 3.1], "nice": false},
              "axis": {"values": [0,0.2,0.4,0.6,0.8,1,1.2,1.4,1.6,1.8,2,2.2,2.4,2.6,2.8,3], "labelExpr": "datum.value === 0 ? '0' : (datum.value === 3 ? '3,0' : '')", "labelPadding": 7, "title": "Relativna obilnost x 10⁶", "titleAngle": 270, "titleX": -22, "titleY": 247, "titleAlign": "center", "titleBaseline": "middle"}}
      },
      "layer": [
        {
          "data": {"name": "trace"},
          "transform": [{"filter": "datum.p === 'b'"}],
          "mark": {"type": "line", "color": "#000000", "strokeWidth": 1.2, "interpolate": "monotone"},
          "encoding": {"detail": {"field": "s"}}
        },
        {
          "data": {"name": "labels"},
          "transform": [{"filter": "datum.p === 'b'"}],
          "mark": {"type": "text", "angle": 270, "align": "left", "baseline": "middle", "font": "Liberation Serif", "fontSize": 28, "color": "#0000FF"},
          "encoding": {"text": {"field": "name"}}
        },
        {
          "data": {"name": "labelsH"},
          "transform": [{"filter": "datum.p === 'b'"}],
          "mark": {"type": "text", "align": "center", "baseline": "middle", "font": "Liberation Serif", "fontSize": 28, "color": "#0000FF"},
          "encoding": {"text": {"field": "name"}}
        },
        {
          "data": {"name": "arrows"},
          "transform": [{"filter": "datum.p === 'b'"}],
          "mark": {"type": "rule", "color": "#5CC98A", "strokeWidth": 1},
          "encoding": {"x2": {"field": "t2"}, "y2": {"field": "v2"}}
        },
        {
          "data": {"name": "heads"},
          "transform": [{"filter": "datum.p === 'b' && datum.dir === 'down'"}],
          "mark": {"type": "point", "shape": "triangle-down", "filled": true, "color": "#00B050", "opacity": 1, "size": 200, "yOffset": -6}
        },
        {
          "data": {"name": "heads"},
          "transform": [{"filter": "datum.p === 'b' && datum.id === '1,3-+1,7-'"}],
          "mark": {"type": "point", "shape": "triangle-down", "filled": true, "color": "#00B050", "opacity": 1, "size": 200, "yOffset": -6, "xOffset": -1.4, "angle": 347}
        },
        {
          "data": {"name": "heads"},
          "transform": [{"filter": "datum.p === 'b' && datum.id === '1,5-'"}],
          "mark": {"type": "point", "shape": "triangle-down", "filled": true, "color": "#00B050", "opacity": 1, "size": 200, "yOffset": -6, "xOffset": 1.7, "angle": 16}
        },
        {
          "data": {"name": "heads"},
          "transform": [{"filter": "datum.p === 'b' && datum.id === '2,3,6-'"}],
          "mark": {"type": "point", "shape": "triangle-down", "filled": true, "color": "#00B050", "opacity": 1, "size": 200, "yOffset": -6, "xOffset": 0.8, "angle": 7}
        },
        {
          "data": {"name": "boxes"},
          "transform": [{"filter": "datum.p === 'b'"}],
          "mark": {"type": "rect", "filled": false, "color": "#3D4FF5", "strokeWidth": 1.5},
          "encoding": {"x2": {"field": "t2"}, "y2": {"field": "v2"}}
        },
        {
          "data": {"name": "boxText"},
          "transform": [{"filter": "datum.p === 'b'"}],
          "mark": {"type": "text", "align": "center", "baseline": "middle", "font": "Liberation Serif", "fontSize": 28, "color": "#1A1A1A"},
          "encoding": {"text": {"field": "name"}}
        },
        {
          "data": {"name": "tags"},
          "transform": [{"filter": "datum.p === 'b'"}],
          "mark": {"type": "text", "align": "center", "baseline": "middle", "font": "Liberation Serif", "fontSize": 29, "fontWeight": "bold", "color": "#1A1A1A"},
          "encoding": {"text": {"field": "name"}}
        }
      ]
    }
  ]
}
